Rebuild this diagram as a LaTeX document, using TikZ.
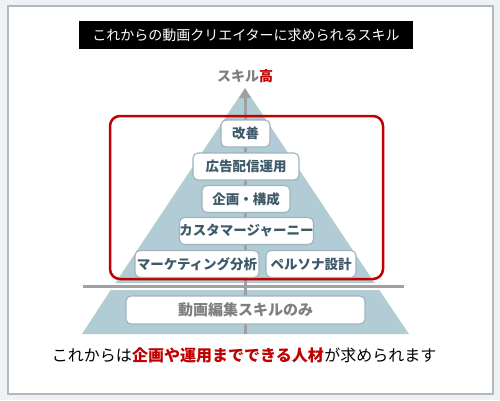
\documentclass[tikz,border=0pt]{standalone}
\usepackage{fontspec}
\setmainfont{Noto Sans CJK JP}
\usetikzlibrary{arrows.meta,backgrounds}
\definecolor{bgc}{HTML}{EEF2F5}
\definecolor{panelline}{HTML}{B4B8BC}
\definecolor{pyr}{HTML}{B2CCD5}
\definecolor{axisgray}{HTML}{A0A0A0}
\definecolor{redbox}{HTML}{C00000}
\definecolor{boxline}{HTML}{9DB3BE}
\definecolor{boxtext}{HTML}{3E5A69}
\definecolor{basetext}{HTML}{7F7F7F}
\definecolor{hl}{HTML}{FFFF00}
\tikzset{
  skillbox/.style={draw=boxline, line width=1.1pt, fill=white, rounded corners=5pt,
    inner sep=0pt, text=boxtext, font=\fontsize{13.5}{15}\selectfont\bfseries},
  sentence/.style={inner sep=0pt, font=\fontsize{16}{18}\selectfont},
}
\begin{document}
\begin{tikzpicture}[x=1pt,y=-1pt]
\useasboundingbox (0,0) rectangle (500,400);
\fill[bgc] (0,0) rectangle (500,400);
\draw[panelline, fill=white, line width=1.2pt] (8,6) rectangle (493,394);
% title
\node[fill=black, text=white, minimum width=334pt, minimum height=28pt, inner sep=0pt,
  font=\fontsize{14}{16}\selectfont] (title) at (246,35) {これからの動画クリエイターに求められるスキル};
% axis label
\node[inner sep=0pt, font=\fontsize{14}{16}\selectfont\bfseries] (axislabel) at (245,76)
  {\textcolor{basetext}{スキル}\textcolor{redbox}{高}};
% pyramid
\coordinate (apex) at (245,88);
\coordinate (basec) at (245,334);
\fill[pyr] (apex) -- (374.6,283) -- (115.4,283) -- cycle;
\fill[pyr] (110.7,290) -- (379.3,290) -- (409,334) -- (82,334) -- cycle;
% arrow
\draw[axisgray, line width=3pt, -{Triangle[width=11pt,length=10pt]}] (basec) -- (apex);
% divider
\coordinate (divl) at (83,286);
\coordinate (divr) at (404,286);
\draw[axisgray, line width=3pt] (divl) -- (divr);
% red frame
\draw[redbox, line width=2.5pt, rounded corners=10pt] (110,116) rectangle (383,279);
% boxes
\node[skillbox, minimum width=49pt, minimum height=27pt] (b1) at (245.5,133.5) {改善};
\node[skillbox, minimum width=106pt, minimum height=27pt] (b2) at (246,166.5) {広告配信運用};
\node[skillbox, minimum width=88pt, minimum height=27pt] (b3) at (246,199) {企画・構成};
\node[skillbox, minimum width=133pt, minimum height=27pt] (b4) at (246.5,231) {カスタマージャーニー};
\node[skillbox, minimum width=124pt, minimum height=27pt] (b5) at (197,264) {マーケティング分析};
\node[skillbox, minimum width=90pt, minimum height=27pt] (b6) at (311,264) {ペルソナ設計};
\node[skillbox, minimum width=239pt, minimum height=28pt, text=basetext,
  font=\fontsize{15}{17}\selectfont\bfseries] (b7) at (245.5,310) {動画編集スキルのみ};
% bottom sentence
\node[sentence, anchor=base east] (s1) at (132,361) {これからは};
\node[sentence, anchor=base west, text=redbox, font=\fontsize{16}{18}\selectfont\bfseries] (s2) at (s1.base east) {企画や運用までできる人材};
\node[sentence, anchor=base west] (s3) at (s2.base east) {が求められます};
\begin{scope}[on background layer]
\fill[hl] (s2.west |- 0,355) rectangle (s2.east |- 0,365);
\end{scope}
\end{tikzpicture}
\end{document}
